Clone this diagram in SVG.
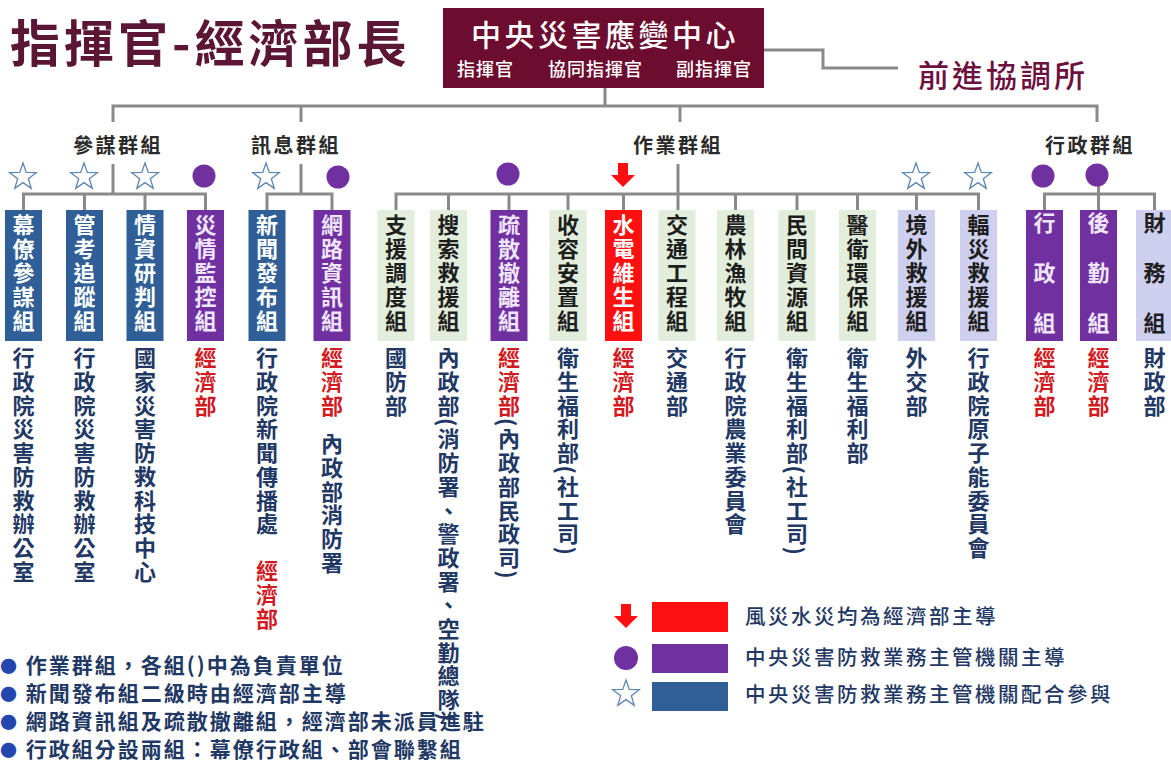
<svg xmlns="http://www.w3.org/2000/svg" width="1171" height="761" viewBox="0 0 1171 761" lang="zh-Hant-TW" xml:lang="zh-Hant-TW">
<defs>
<style>
text{font-family:"Noto Sans CJK TC","Noto Sans CJK SC",sans-serif}
.v{writing-mode:vertical-rl;font-size:22px;font-weight:700;letter-spacing:1.7px;fill:#1f3864}
.bt{writing-mode:vertical-rl;font-size:22px;font-weight:700;letter-spacing:2px}
.b3{letter-spacing:28px}
.w{fill:#ffffff}
.wp{fill:#efe6fb}
.d{fill:#1e1e1e}
.r{fill:#d21a22}
.blue{fill:#2f5f96}
.pur{fill:#7030a0}
.red{fill:#ff1010}
.grn{fill:#e2eedb}
.lav{fill:#cfcfef}
.grp{font-size:20px;font-weight:700;fill:#2b2b2b;letter-spacing:2.5px;text-anchor:middle}
.note{font-size:21px;font-weight:700;fill:#1f3864;letter-spacing:2px}
.leg{font-size:20.5px;font-weight:500;fill:#1f3864;letter-spacing:2.5px}
.bul{fill:#2446b0;font-size:17px}
.star{fill:#ffffff;stroke:#5d86b2;stroke-width:1.3}
.dot{fill:#7030a0}
</style>
<path id="star" d="M0,-14 L3.29,-4.53 L13.31,-4.33 L5.33,1.73 L8.23,11.33 L0,5.6 L-8.23,11.33 L-5.33,1.73 L-13.31,-4.33 L-3.29,-4.53 Z"/>
<path id="arrow" d="M-5,-12 H5 V0 H12 L0,12 L-12,0 H-5 Z"/>
</defs>
<rect width="1171" height="761" fill="#ffffff"/>

<g id="title">
<text x="10" y="62" font-size="50" font-weight="700" fill="#5a1634" letter-spacing="4">指揮官-經濟部長</text>
</g>

<g id="center">
<rect x="443" y="8" width="321" height="80" fill="#6c0d30"/>
<text x="605" y="46" font-size="30" font-weight="500" fill="#ffffff" letter-spacing="3.5" text-anchor="middle">中央災害應變中心</text>
<text x="457" y="76" font-size="18" font-weight="500" fill="#ffffff" letter-spacing="1">指揮官</text>
<text x="548" y="76" font-size="18" font-weight="500" fill="#ffffff" letter-spacing="1">協同指揮官</text>
<text x="676" y="76" font-size="18" font-weight="500" fill="#ffffff" letter-spacing="1">副指揮官</text>
</g>

<g id="forward">
<text x="918" y="87" font-size="31" font-weight="500" fill="#6c1040" letter-spacing="3">前進協調所</text>
</g>

<g id="connectors" stroke="#8a8a8a" stroke-width="3" fill="none">
<path d="M764 50 H823 V68 H898"/>
<path d="M605 88 V106"/>
<path d="M113 122 V106 H1097 V122"/>
<path d="M301 106 V122"/>
<path d="M680 106 V122"/>
<path d="M113 164 V194"/>
<path d="M23.5 210 V194 H205.5 V210 M84.5 194 V210 M145 194 V210"/>
<path d="M301 164 V194"/>
<path d="M267 210 V194 H332 V210"/>
<path d="M678 164 V210"/>
<path d="M396 210 V194 H978.5 V210 M448.5 194 V210 M509 194 V210 M568 194 V210 M623.5 194 V210 M735.5 194 V210 M797 194 V210 M857.5 194 V210 M916.5 194 V210"/>
<path d="M1098.5 164 V210"/>
<path d="M1044.5 210 V194 H1154.5 V210"/>
</g>

<g id="group-staff"><text class="grp" x="118" y="153">參謀群組</text></g>
<g id="group-info"><text class="grp" x="296" y="153">訊息群組</text></g>
<g id="group-ops"><text class="grp" x="678" y="153">作業群組</text></g>
<g id="group-admin"><text class="grp" x="1090" y="153">行政群組</text></g>

<g id="markers">
<use href="#star" class="star" x="23" y="177"/>
<use href="#star" class="star" x="84" y="177"/>
<use href="#star" class="star" x="145" y="177"/>
<circle class="dot" cx="204" cy="176" r="11.5"/>
<use href="#star" class="star" x="266" y="177"/>
<circle class="dot" cx="338" cy="177" r="11.5"/>
<circle class="dot" cx="508" cy="174" r="11.5"/>
<use href="#arrow" x="623" y="175" fill="#ff1010"/>
<use href="#star" class="star" x="916" y="177"/>
<use href="#star" class="star" x="978" y="177"/>
<circle class="dot" cx="1043" cy="176" r="11.5"/>
<circle class="dot" cx="1097" cy="175" r="11.5"/>
</g>

<g id="n1"><rect class="blue" x="5" y="210" width="37" height="131"/><text class="bt w" x="23.5" y="214">幕僚參謀組</text><text class="v" x="23.5" y="347">行政院災害防救辦公室</text></g>
<g id="n2"><rect class="blue" x="66" y="210" width="37" height="131"/><text class="bt w" x="84.5" y="214">管考追蹤組</text><text class="v" x="84.5" y="347">行政院災害防救辦公室</text></g>
<g id="n3"><rect class="blue" x="126.5" y="210" width="37" height="131"/><text class="bt w" x="145" y="214">情資研判組</text><text class="v" x="145" y="347">國家災害防救科技中心</text></g>
<g id="n4"><rect class="pur" x="187" y="210" width="37" height="131"/><text class="bt wp" x="205.5" y="214">災情監控組</text><text class="v r" x="205.5" y="347">經濟部</text></g>
<g id="n5"><rect class="blue" x="248.5" y="210" width="37" height="131"/><text class="bt w" x="267" y="214">新聞發布組</text><text class="v" x="267" y="347">行政院新聞傳播處</text><text class="v r" x="267" y="560">經濟部</text></g>
<g id="n6"><rect class="pur" x="313.5" y="210" width="37" height="131"/><text class="bt wp" x="332" y="214">網路資訊組</text><text class="v r" x="332" y="347">經濟部</text><text class="v" x="332" y="433">內政部消防署</text></g>
<g id="n7"><rect class="grn" x="377.5" y="210" width="37" height="131"/><text class="bt d" x="396" y="214">支援調度組</text><text class="v" x="396" y="347">國防部</text></g>
<g id="n8"><rect class="grn" x="430" y="210" width="37" height="131"/><text class="bt d" x="448.5" y="214">搜索救援組</text><text class="v" x="448.5" y="347">內政部(消防署、警政署、空勤總隊)</text></g>
<g id="n9"><rect class="pur" x="490.5" y="210" width="37" height="131"/><text class="bt wp" x="509" y="214">疏散撤離組</text><text class="v" x="509" y="347"><tspan class="r">經濟部</tspan>(內政部民政司)</text></g>
<g id="n10"><rect class="grn" x="549.5" y="210" width="37" height="131"/><text class="bt d" x="568" y="214">收容安置組</text><text class="v" x="568" y="347">衛生福利部(社工司)</text></g>
<g id="n11"><rect class="red" x="605" y="210" width="37" height="131"/><text class="bt w" x="623.5" y="214">水電維生組</text><text class="v r" x="623.5" y="347">經濟部</text></g>
<g id="n12"><rect class="grn" x="658.5" y="210" width="37" height="131"/><text class="bt d" x="677" y="214">交通工程組</text><text class="v" x="677" y="347">交通部</text></g>
<g id="n13"><rect class="grn" x="717" y="210" width="37" height="131"/><text class="bt d" x="735.5" y="214">農林漁牧組</text><text class="v" x="735.5" y="347">行政院農業委員會</text></g>
<g id="n14"><rect class="grn" x="778.5" y="210" width="37" height="131"/><text class="bt d" x="797" y="214">民間資源組</text><text class="v" x="797" y="347">衛生福利部(社工司)</text></g>
<g id="n15"><rect class="grn" x="839" y="210" width="37" height="131"/><text class="bt d" x="857.5" y="214">醫衛環保組</text><text class="v" x="857.5" y="347">衛生福利部</text></g>
<g id="n16"><rect class="lav" x="898" y="210" width="37" height="131"/><text class="bt d" x="916.5" y="214">境外救援組</text><text class="v" x="916.5" y="347">外交部</text></g>
<g id="n17"><rect class="lav" x="960" y="210" width="37" height="131"/><text class="bt d" x="978.5" y="214">輻災救援組</text><text class="v" x="978.5" y="347">行政院原子能委員會</text></g>
<g id="n18"><rect class="pur" x="1026" y="210" width="37" height="131"/><text class="bt b3 wp" x="1044.5" y="212">行政組</text><text class="v r" x="1044.5" y="347">經濟部</text></g>
<g id="n19"><rect class="pur" x="1080" y="210" width="37" height="131"/><text class="bt b3 wp" x="1098.5" y="212">後勤組</text><text class="v r" x="1098.5" y="347">經濟部</text></g>
<g id="n20"><rect class="lav" x="1136" y="210" width="37" height="131"/><text class="bt b3 d" x="1154.5" y="212">財務組</text><text class="v" x="1154.5" y="347">財政部</text></g>

<g id="legend">
<use href="#arrow" x="626" y="616" fill="#ff1010"/>
<rect x="652" y="602" width="76" height="30" fill="#ff1010"/>
<text class="leg" x="745" y="624">風災水災均為經濟部主導</text>
<circle class="dot" cx="626" cy="658" r="12"/>
<rect x="652" y="644" width="76" height="29" fill="#7030a0"/>
<text class="leg" x="745" y="665">中央災害防救業務主管機關主導</text>
<use href="#star" class="star" x="626" y="694"/>
<rect x="652" y="682" width="76" height="29" fill="#2f5f96"/>
<text class="leg" x="745" y="702">中央災害防救業務主管機關配合參與</text>
</g>

<g id="notes">
<text class="note" x="0" y="673"><tspan class="bul">●</tspan> 作業群組，各組()中為負責單位</text>
<text class="note" x="0" y="701"><tspan class="bul">●</tspan> 新聞發布組二級時由經濟部主導</text>
<text class="note" x="0" y="729"><tspan class="bul">●</tspan> 網路資訊組及疏散撤離組，經濟部未派員進駐</text>
<text class="note" x="0" y="757"><tspan class="bul">●</tspan> 行政組分設兩組：幕僚行政組、部會聯繫組</text>
</g>
</svg>
